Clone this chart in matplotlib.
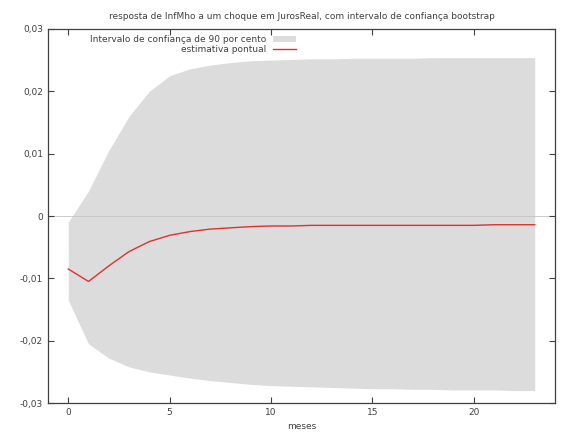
import numpy as np
import matplotlib.pyplot as plt
from matplotlib.ticker import FuncFormatter

# periods and bootstrap interval
periods = np.arange(24)
point_est = [-0.0085, -0.0105, -0.0080, -0.0057, -0.0041, -0.0031, -0.0025, -0.0021,
             -0.0019, -0.0017, -0.0016, -0.0016, -0.0015, -0.0015, -0.0015, -0.0015,
             -0.0015, -0.0015, -0.0015, -0.0015, -0.0015, -0.0014, -0.0014, -0.0014]
upper = [-0.0010, 0.0040, 0.0105, 0.0160, 0.0200, 0.0225, 0.0236, 0.0242,
         0.0246, 0.0249, 0.0250, 0.0251, 0.0252, 0.0252, 0.0253, 0.0253,
         0.0253, 0.0253, 0.0254, 0.0254, 0.0254, 0.0254, 0.0254, 0.0254]
lower = [-0.0135, -0.0205, -0.0228, -0.0242, -0.0250, -0.0255, -0.0260, -0.0264,
         -0.0267, -0.0270, -0.0272, -0.0273, -0.0274, -0.0275, -0.0276, -0.0277,
         -0.0277, -0.0278, -0.0278, -0.0279, -0.0279, -0.0279, -0.0280, -0.0280]

fig = plt.figure(figsize=(5.71, 4.32), dpi=100)
ax = fig.add_axes([0.084, 0.067, 0.888, 0.866])

ax.fill_between(periods, lower, upper, color='#dcdcdc', lw=0,
                label='Intervalo de confiança de 90 por cento')
ax.axhline(0, color='#c4c4c4', lw=0.6, zorder=1.5)
ax.plot(periods, point_est, color='#e03030', lw=1.0, label='estimativa pontual')

ax.set_xlim(-1, 24)
ax.set_ylim(-0.03, 0.03)
ax.set_xticks([0, 5, 10, 15, 20])
ax.set_yticks([-0.03, -0.02, -0.01, 0, 0.01, 0.02, 0.03])
ax.yaxis.set_major_formatter(FuncFormatter(
    lambda v, p: '0' if abs(v) < 1e-12 else ('%.2f' % v).replace('.', ',')))
ax.tick_params(direction='in', top=True, right=True, labelsize=6.5,
               length=4, width=0.8, color='#404040', labelcolor='#404040')
for s in ax.spines.values():
    s.set_color('#404040')
    s.set_linewidth(0.9)

ax.set_title('resposta de InfMho a um choque em JurosReal, com intervalo de confiança bootstrap',
             fontsize=6.5, color='#404040', pad=7)
ax.set_xlabel('meses', fontsize=6.5, color='#404040', labelpad=4)

ax.legend(loc='upper left', bbox_to_anchor=(0.07, 1.0), frameon=False, markerfirst=False,
          fontsize=6.5, handlelength=2.5, handleheight=0.5, labelspacing=0.1,
          borderaxespad=0.3, labelcolor='#404040')

fig.savefig('out.png', dpi=100)
